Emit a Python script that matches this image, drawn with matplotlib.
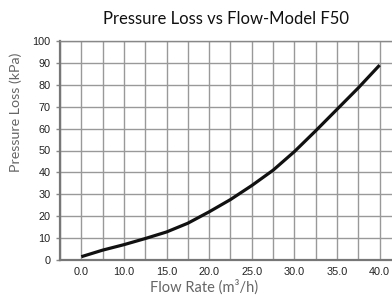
import numpy as np
import matplotlib.pyplot as plt

# tick labels of the flow axis (equally spaced on the chart)
flow_labels = ['0.0', '10.0', '15.0', '20.0', '25.0', '30.0', '35.0', '40.0']

# curve, x given in tick-label positions
curve_pos = [0, 0.5, 1, 1.5, 2, 2.5, 3, 3.5, 4, 4.5, 5, 5.5, 6, 6.5, 7]
curve_kpa = [1.5, 4.5, 7.0, 9.8, 12.8, 16.8, 22.0, 27.6, 34.0, 41.0, 49.5, 59.0, 68.8, 78.6, 89.0]

fig = plt.figure(figsize=(3.92, 2.95), dpi=100)
ax = fig.add_axes([60/392, 1 - 260/295, 1 - 60/392, 219/295])

ax.plot(curve_pos, curve_kpa, color='#111111', lw=2.3, solid_capstyle='butt', zorder=3)

ax.set_xlim(-0.5, 7.29)
ax.set_ylim(0, 100)
ax.set_xticks(np.arange(len(flow_labels)))
ax.set_xticklabels(flow_labels, family='Liberation Sans')
ax.set_xticks(np.arange(-0.5, 7.5, 1.0), minor=True)
ax.set_yticks(np.arange(0, 101, 10))
ax.set_yticklabels([str(v) for v in range(0, 101, 10)], family='Liberation Sans')

ax.grid(True, which='both', axis='x', color='#999999', lw=1.0)
ax.grid(True, which='major', axis='y', color='#999999', lw=1.0)
ax.tick_params(axis='x', which='both', length=0, labelsize=7.8, labelcolor='#222222', pad=5)
ax.tick_params(axis='y', length=3, width=1, color='#888888', labelsize=7.8, labelcolor='#222222', pad=4)

ax.spines['right'].set_visible(False)
ax.spines['top'].set_color('#888888')
ax.spines['top'].set_linewidth(1.0)
for s in ['left', 'bottom']:
    ax.spines[s].set_color('#777777')
    ax.spines[s].set_linewidth(1.6)

ax.set_title('Pressure Loss vs Flow-Model F50', fontsize=12, family='Lato', color='#111111', pad=12)
ax.set_xlabel('Flow Rate (m³/h)', fontsize=10.5, family='Lato', color='#666666')
ax.set_ylabel('Pressure Loss (kPa)', fontsize=10.3, family='Lato', color='#666666')
ax.xaxis.set_label_coords(0.434, -0.088)
ax.yaxis.set_label_coords(-0.115, 0.675)

fig.savefig('out.png', dpi=100)
